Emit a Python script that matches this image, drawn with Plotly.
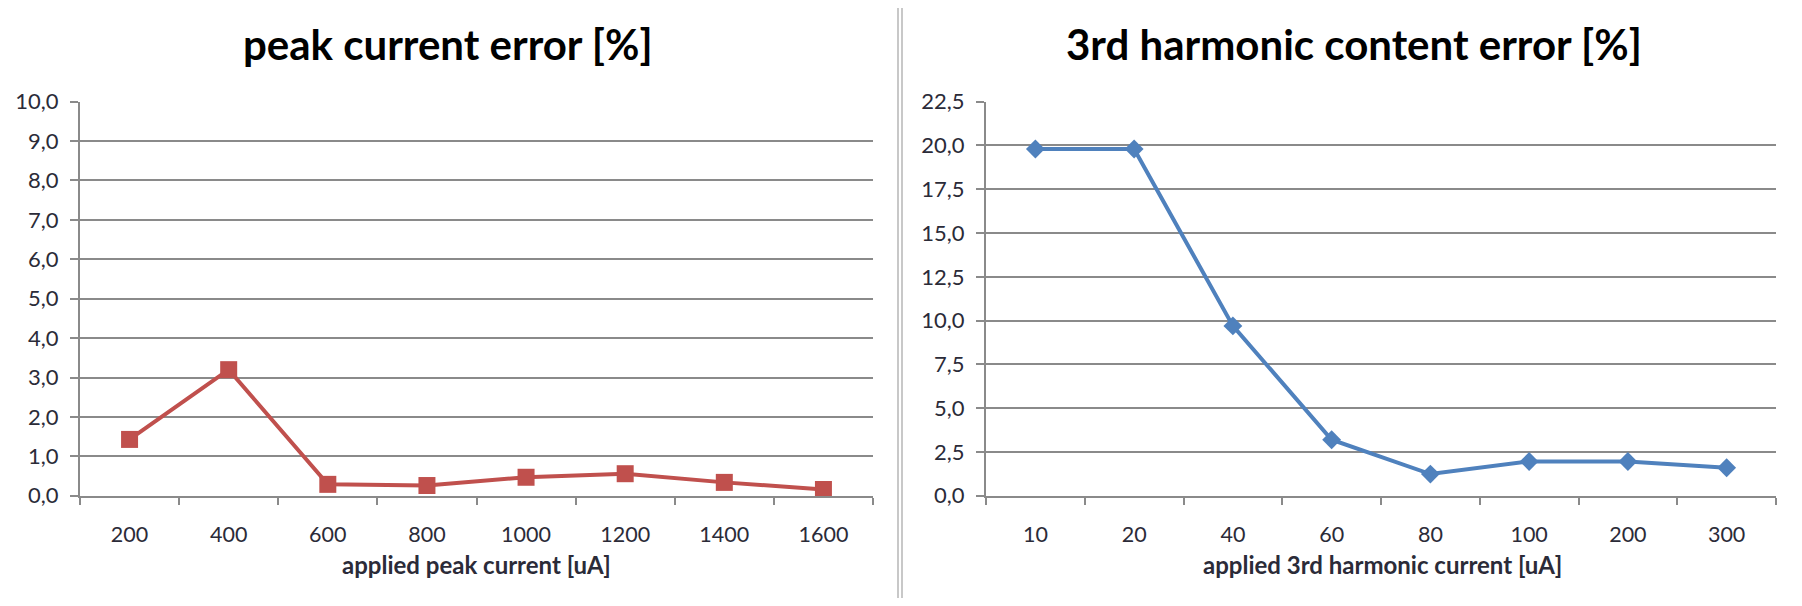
import plotly.graph_objects as go

# ---- data ----
peak_categories = ["200", "400", "600", "800", "1000", "1200", "1400", "1600"]
peak_error = [1.43, 3.2, 0.29, 0.26, 0.47, 0.56, 0.34, 0.16]

harm_categories = ["10", "20", "40", "60", "80", "100", "200", "300"]
harm_error = [19.8, 19.8, 9.7, 3.2, 1.24, 1.96, 1.96, 1.6]

left_title = "peak current error [%]"
right_title = "3rd harmonic content error [%]"
left_xtitle = "applied peak current [uA]"
right_xtitle = "applied 3rd harmonic current [uA]"

# figure drawn inside the page's default 8px body margin
OFF = 8
W, H = 1802 - 2 * OFF, 606 - 2 * OFF
FONT = "Lato"
RED = "#C0504D"
BLUE = "#4F81BD"
GRID = "#8a8a8a"
TXT = "#2b2b38"


def px(xf):
    return (xf - OFF) / W


def py(yf):
    return 1 - (yf - OFF) / H


fig = go.Figure()
fig.add_trace(go.Scatter(
    x=peak_categories, y=peak_error, mode="lines+markers",
    line=dict(color=RED, width=4),
    marker=dict(symbol="square", size=17, color=RED),
    xaxis="x", yaxis="y", showlegend=False, cliponaxis=False))
fig.add_trace(go.Scatter(
    x=harm_categories, y=harm_error, mode="lines+markers",
    line=dict(color=BLUE, width=4),
    marker=dict(symbol="diamond", size=14.5, color=BLUE),
    xaxis="x2", yaxis="y2", showlegend=False, cliponaxis=False))

ydom = [py(504.5), py(91.5)]
xdom1 = [px(80), px(873)]
xdom2 = [px(986), px(1776)]

common_x = dict(type="category", tickson="boundaries", ticks="outside", ticklen=7,
                tickcolor=GRID, tickwidth=1.5, showline=True, linecolor=GRID, linewidth=2,
                showgrid=False, tickfont=dict(family=FONT, size=21.5, color=TXT),
                ticklabelstandoff=18, fixedrange=True)
common_y = dict(showgrid=True, gridcolor=GRID, gridwidth=2, ticks="outside", ticklen=8,
                tickcolor=GRID, tickwidth=1.5, showline=True, linecolor=GRID, linewidth=2,
                zeroline=False, tickformat=".1f", ticklabelstandoff=7,
                tickfont=dict(family=FONT, size=22, color=TXT), fixedrange=True)

fig.update_layout(
    width=W, height=H, margin=dict(l=0, r=0, t=0, b=0),
    paper_bgcolor="white", plot_bgcolor="white", separators=", ",
    xaxis=dict(domain=xdom1, anchor="y", range=[-0.5, 7.5], **common_x),
    yaxis=dict(domain=ydom, anchor="x", range=[0, 10], dtick=1, **common_y),
    xaxis2=dict(domain=xdom2, anchor="y2", range=[-0.5, 7.5], **common_x),
    yaxis2=dict(domain=ydom, anchor="x2", range=[0, 22.5], dtick=2.5, **common_y),
    annotations=[
        dict(text=f"<b>{left_title}</b>", x=px(448), y=py(31), xref="paper", yref="paper",
             showarrow=False, font=dict(family=FONT, size=42, color="#000000"),
             xanchor="center", yanchor="middle"),
        dict(text=f"<b>{right_title}</b>", x=px(1354), y=py(31), xref="paper", yref="paper",
             showarrow=False, font=dict(family=FONT, size=42, color="#000000"),
             xanchor="center", yanchor="middle"),
        dict(text=f"<b>{left_xtitle}</b>", x=px(476), y=py(577), xref="paper", yref="paper",
             showarrow=False, font=dict(family=FONT, size=24, color=TXT),
             xanchor="center", yanchor="middle"),
        dict(text=f"<b>{right_xtitle}</b>", x=px(1382), y=py(577), xref="paper", yref="paper",
             showarrow=False, font=dict(family=FONT, size=24, color=TXT),
             xanchor="center", yanchor="middle"),
    ],
    shapes=[
        dict(type="line", xref="paper", yref="paper", x0=px(898), x1=px(898), y0=-0.05, y1=1.05,
             line=dict(color="#c8c8c8", width=2)),
        dict(type="line", xref="paper", yref="paper", x0=px(902), x1=px(902), y0=-0.05, y1=1.05,
             line=dict(color="#c8c8c8", width=2)),
    ],
)

fig.write_html("out.html")
